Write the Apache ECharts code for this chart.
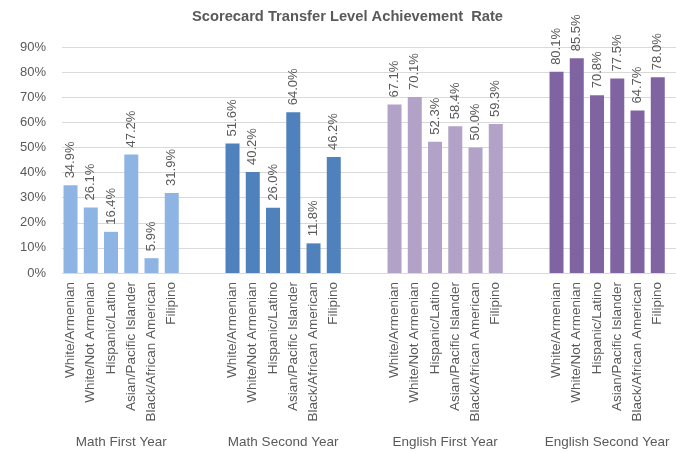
<!DOCTYPE html>
<html>
<head>
<meta charset="utf-8">
<script src="https://cdn.jsdelivr.net/npm/echarts@6/dist/echarts.min.js"></script>
<style>html,body{margin:0;padding:0;background:#fff;}#c{width:676px;height:452px;}</style>
</head>
<body>
<div id="c"></div>
<script>
const ethnicities = ['White/Armenian','White/Not Armenian','Hispanic/Latino','Asian/Pacific Islander','Black/African American','Filipino'];
const groupNames = ['Math First Year','Math Second Year','English First Year','English Second Year'];
const mathFirstYear = [34.9, 26.1, 16.4, 47.2, 5.9, 31.9];
const mathSecondYear = [51.6, 40.2, 26.0, 64.0, 11.8, 46.2];
const englishFirstYear = [67.1, 70.1, 52.3, 58.4, 50.0, 59.3];
const englishSecondYear = [80.1, 85.5, 70.8, 77.5, 64.7, 78.0];
const yTicks = [0,10,20,30,40,50,60,70,80,90];
const colors = ['#8EB4E3','#4F81BD','#B3A2C7','#8064A2'];

const groups = [mathFirstYear, mathSecondYear, englishFirstYear, englishSecondYear];
const GAP = 2;
const nSlots = groups.length * ethnicities.length + (groups.length - 1) * GAP;
const cats = [];
for (let g = 0; g < groups.length; g++) {
  ethnicities.forEach(e => cats.push(e));
  if (g < groups.length - 1) for (let k = 0; k < GAP; k++) cats.push('');
}
const groupCats = new Array(nSlots + 1).fill('');
groups.forEach((_, g) => { groupCats[g * (ethnicities.length + GAP) + ethnicities.length / 2] = groupNames[g]; });

const font = 'Liberation Sans';
const series = groups.map((vals, g) => {
  const data = new Array(nSlots).fill('-');
  vals.forEach((v, i) => { data[g * (ethnicities.length + GAP) + i] = v; });
  return {
    type: 'bar', xAxisIndex: 1, yAxisIndex: 1, data,
    barWidth: 14, barGap: '-100%',
    itemStyle: { color: colors[g] },
    label: { show: true, position: 'top', rotate: 90, align: 'left', verticalAlign: 'middle', distance: 7,
      color: '#595959', fontSize: 13, fontFamily: font,
      formatter: p => p.value.toFixed(1) + '%' },
    animation: false
  };
});

const chart = echarts.init(document.getElementById('c'), null, { renderer: 'canvas' });
chart.setOption({
  animation: false,
  title: { text: 'Scorecard Transfer Level Achievement  Rate', left: 187, top: 4,
    textStyle: { fontFamily: font, fontSize: 14.7, fontWeight: 'bold', color: '#595959' } },
  grid: [
    { left: 62, right: 0, top: 47, height: 226 },
    { left: 60.4, width: 607.5, top: 47, height: 226 }
  ],
  xAxis: [
    { gridIndex: 0, type: 'value', show: false, min: 0, max: 1 },
    { gridIndex: 1, type: 'category', data: cats, boundaryGap: true,
      axisLine: { show: false }, axisTick: { show: false },
      axisLabel: { interval: 0, rotate: 90, margin: 9, color: '#595959', fontSize: 13.5, fontFamily: font } },
    { gridIndex: 1, type: 'category', data: groupCats, boundaryGap: false, position: 'bottom', offset: 162,
      axisLine: { show: false }, axisTick: { show: false },
      axisLabel: { interval: 0, margin: 0, color: '#595959', fontSize: 13.5, fontFamily: font } }
  ],
  yAxis: [
    { gridIndex: 0, type: 'value', min: yTicks[0], max: yTicks[yTicks.length - 1], interval: yTicks[1] - yTicks[0],
      axisLine: { show: false }, axisTick: { show: false },
      axisLabel: { margin: 16, color: '#595959', fontSize: 13, fontFamily: font, formatter: '{value}%' },
      splitLine: { lineStyle: { color: '#D9D9D9', width: 1 } } },
    { gridIndex: 1, type: 'value', min: yTicks[0], max: yTicks[yTicks.length - 1], show: false, splitLine: { show: false } }
  ],
  series
});
</script>
</body>
</html>
